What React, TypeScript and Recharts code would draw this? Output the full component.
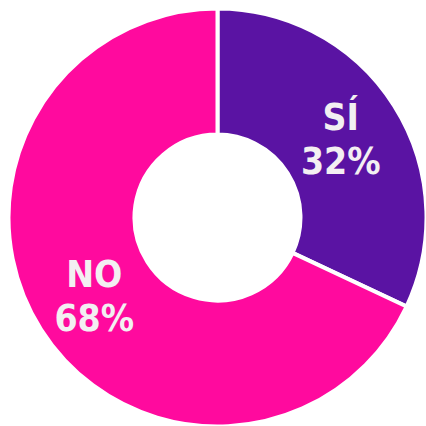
import { PieChart, Pie, Cell } from 'recharts';

const labels = ['SÍ', 'NO'];
const values = [32, 68];
const colors = ['#5A13A3', '#FF0A9E'];

const data = labels.map((name, i) => ({ name, value: values[i] }));

const RADIAN = Math.PI / 180;

const renderLabel = (props: any) => {
  const { cx, cy, midAngle, innerRadius, outerRadius, index } = props;
  const r = (innerRadius + outerRadius) / 2;
  const x = cx + r * Math.cos(-midAngle * RADIAN);
  const y = cy + r * Math.sin(-midAngle * RADIAN);
  return (
    <text
      x={x}
      y={y}
      fill="#F3EFF2"
      textAnchor="middle"
      fontFamily="'DejaVu Sans Condensed', 'DejaVu Sans', sans-serif"
      fontWeight="bold"
      fontSize={37}
      style={{ fontStretch: 'condensed' }}
    >
      <tspan x={x} dy={-9}>{data[index].name}</tspan>
      <tspan x={x} dy={44}>{`${data[index].value}%`}</tspan>
    </text>
  );
};

export default function App() {
  return (
    <div style={{ position: 'absolute', left: 0, top: 0, width: 426, height: 426, background: '#fff' }}>
      <PieChart width={426} height={426} margin={{ top: 0, right: 0, bottom: 0, left: 0 }}>
        <Pie
          data={data}
          dataKey="value"
          cx={217.5}
          cy={217.5}
          innerRadius={83}
          outerRadius={209}
          startAngle={90}
          endAngle={-270}
          stroke="#ffffff"
          strokeWidth={4}
          label={renderLabel}
          labelLine={false}
          isAnimationActive={false}
        >
          {data.map((d, i) => (
            <Cell key={d.name} fill={colors[i]} />
          ))}
        </Pie>
      </PieChart>
    </div>
  );
}
